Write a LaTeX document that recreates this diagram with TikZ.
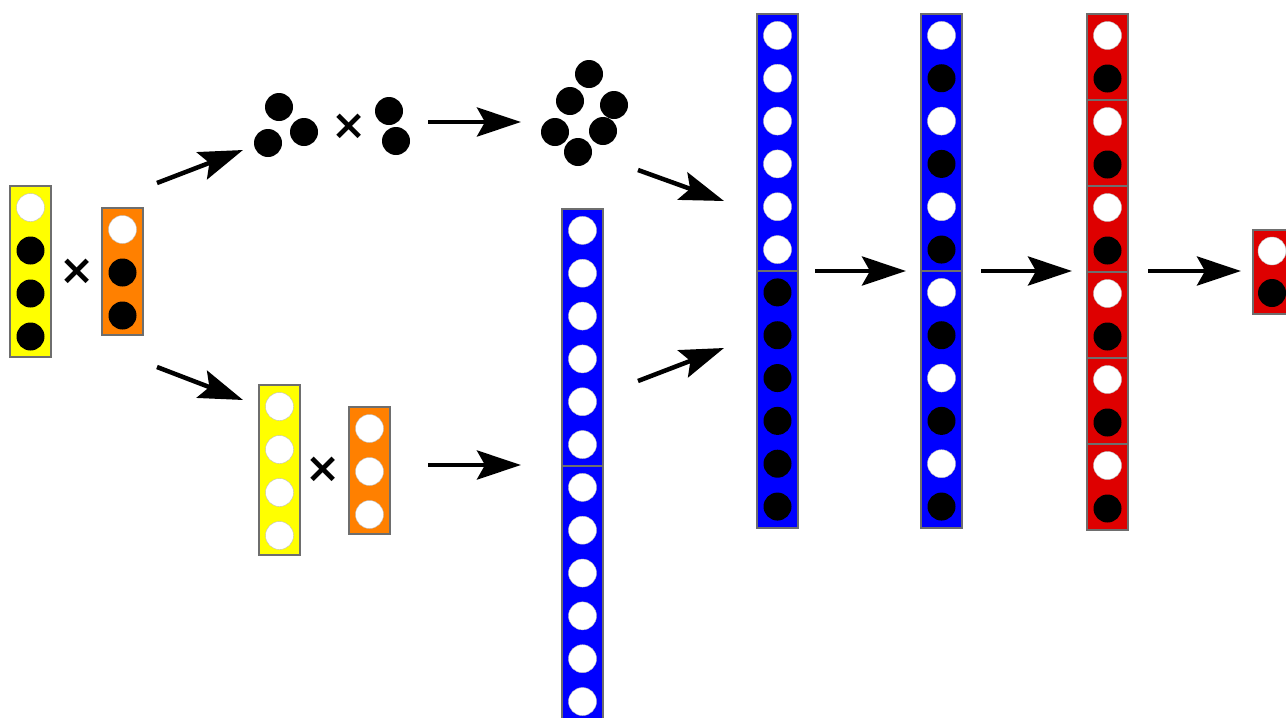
\documentclass[tikz,border=0pt]{standalone}
\usepackage{fontspec}
\newfontfamily\dvs{DejaVu Sans}
\usetikzlibrary{arrows.meta}
\definecolor{cyellow}{RGB}{255,255,0}
\definecolor{corange}{RGB}{255,128,0}
\definecolor{cblue}{RGB}{0,0,255}
\definecolor{cred}{RGB}{222,0,0}
\definecolor{cedge}{RGB}{110,110,110}
\newcommand\mycol[5]{% name, x, ytop, spacing, list
  \foreach \c [count=\i] in {#5} \node[dot\c] (#1-\i) at (#2, {#3+#4/2+#4*(\i-1)}) {};}
\begin{document}
\begin{tikzpicture}[x=1pt,y=-1pt,
  box/.style={draw=cedge, line width=1.2pt, inner sep=0pt, minimum width=41pt},
  dotw/.style={circle, fill=white, draw=black!25, line width=0.4pt, minimum size=28pt, inner sep=0pt},
  dotb/.style={circle, fill=black, minimum size=28pt, inner sep=0pt},
  arr/.style={line width=4.5pt, -{Stealth[length=44pt,width=29pt,inset=8pt]}},
  times/.style={font=\dvs\bfseries\fontsize{42}{42}\selectfont, inner sep=0pt}]
\useasboundingbox (0,0) rectangle (1286,718);
% left input
\node[box, fill=cyellow, minimum height=171pt] (y1) at (30.5,271.5) {};
\mycol{y1c}{30.5}{186}{43}{w,b,b,b}
\node[times] (t1) at (77,272) {×};
\node[box, fill=corange, minimum height=127pt] (o1) at (122.5,271.5) {};
\mycol{o1c}{122.5}{208}{43}{w,b,b}
% upper branch: dot clusters
\node[dotb] (d1) at (279,107) {};
\node[dotb] (d2) at (268,143) {};
\node[dotb] (d3) at (304,132) {};
\node[times] (t2) at (349,127) {×};
\node[dotb] (d4) at (389,111) {};
\node[dotb] (d5) at (396,141) {};
\node[dotb] (e1) at (589,74) {};
\node[dotb] (e2) at (570,101) {};
\node[dotb] (e3) at (614,105) {};
\node[dotb] (e4) at (555,132) {};
\node[dotb] (e5) at (603,131) {};
\node[dotb] (e6) at (578,152) {};
% lower branch
\node[box, fill=cyellow, minimum height=170pt] (y2) at (279.5,470) {};
\mycol{y2c}{279.5}{385}{43}{w,w,w,w}
\node[times] (t3) at (323,470) {×};
\node[box, fill=corange, minimum height=127pt] (o2) at (369.5,470.5) {};
\mycol{o2c}{369.5}{407}{43}{w,w,w}
% blue column 1
\node[box, fill=cblue, minimum height=257pt] (b1a) at (582.5,337.5) {};
\node[box, fill=cblue, minimum height=257pt] (b1b) at (582.5,594.5) {};
\mycol{b1c}{582.5}{209}{42.83}{w,w,w,w,w,w,w,w,w,w,w,w}
% blue column 2
\node[box, fill=cblue, minimum height=257pt] (b2a) at (777.5,142.5) {};
\node[box, fill=cblue, minimum height=257pt] (b2b) at (777.5,399.5) {};
\mycol{b2c}{777.5}{14}{42.83}{w,w,w,w,w,w,b,b,b,b,b,b}
% blue column 3
\node[box, fill=cblue, minimum height=257pt] (b3a) at (941.5,142.5) {};
\node[box, fill=cblue, minimum height=257pt] (b3b) at (941.5,399.5) {};
\mycol{b3c}{941.5}{14}{42.83}{w,b,w,b,w,b,w,b,w,b,w,b}
% red column
\foreach \k in {1,...,6}
  \node[box, fill=cred, minimum height=86pt] (r\k) at (1107.5,{14+43+86*(\k-1)}) {};
\mycol{rc}{1107.5}{14}{43}{w,b,w,b,w,b,w,b,w,b,w,b}
% red output
\node[box, fill=cred, minimum height=84pt] (ro) at (1273.5,272) {};
\mycol{roc}{1272}{230}{42}{w,b}
% arrow end points
\coordinate (a1s) at (157,183); \coordinate (a1e) at (243,150);
\coordinate (a2s) at (157,367); \coordinate (a2e) at (243,400);
\coordinate (a3s) at (428,122); \coordinate (a3e) at (521,122);
\coordinate (a4s) at (428,465); \coordinate (a4e) at (521,465);
\coordinate (a5s) at (638,170); \coordinate (a5e) at (724,201);
\coordinate (a6s) at (638,381); \coordinate (a6e) at (724,348);
\coordinate (a7s) at (815,271); \coordinate (a7e) at (906,271);
\coordinate (a8s) at (981,271); \coordinate (a8e) at (1072,271);
\coordinate (a9s) at (1148,271); \coordinate (a9e) at (1241,271);
\foreach \k in {1,...,9} \draw[arr] (a\k s) -- (a\k e);
\end{tikzpicture}
\end{document}
